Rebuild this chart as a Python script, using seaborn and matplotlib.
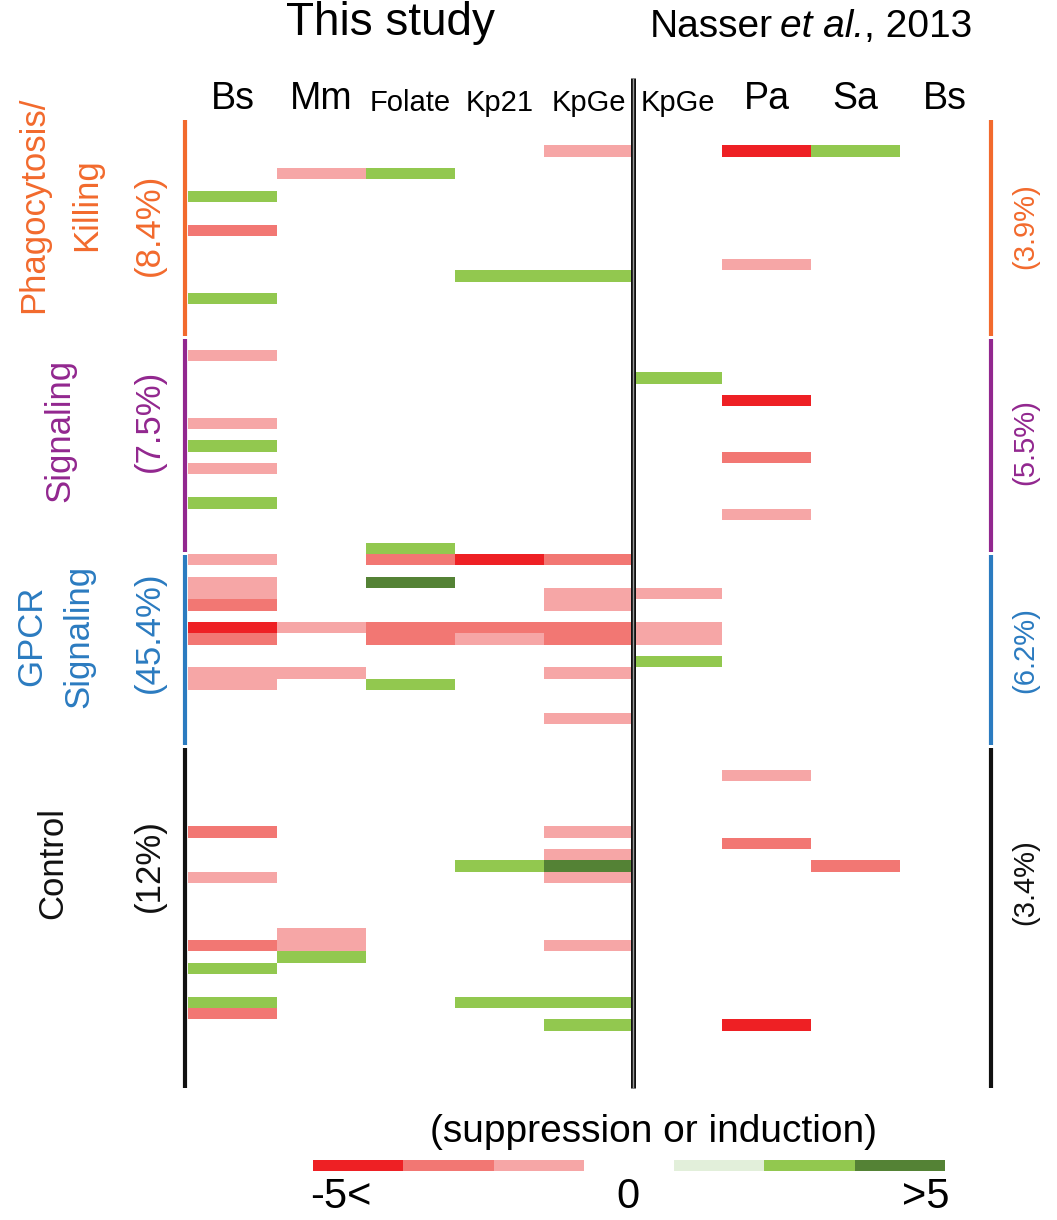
import numpy as np
import pandas as pd
import matplotlib
matplotlib.use("Agg")
import matplotlib.pyplot as plt
from matplotlib.colors import ListedColormap
from matplotlib import font_manager
import seaborn as sns

W, H = 1057, 1220

sns.set_style("white")
REG = "Liberation Sans"
_names = {f.name for f in font_manager.fontManager.ttflist}
NARROW = "Liberation Sans Narrow" if "Liberation Sans Narrow" in _names else REG
plt.rcParams["font.family"] = [REG, "DejaVu Sans"]
plt.rcParams["text.color"] = "black"
plt.rcParams["xtick.color"] = "black"

# column labels (5 from this study, 4 from Nasser et al., 2013)
columns = ["Bs", "Mm", "Folate", "Kp21", "KpGe", "KpGe", "Pa", "Sa", "Bs"]
n_rows = 85

# non-empty cells per column, {row: level}; -3..-1 suppression, 1..3 induction
bs_this = {6: 2, 9: -2, 15: 2, 20: -1, 26: -1, 28: 2, 30: -1, 33: 2, 38: -1,
           40: -1, 41: -1, 42: -2, 44: -3, 45: -2, 48: -1, 49: -1, 62: -2,
           66: -1, 72: -2, 74: 2, 77: 2, 78: -2}
mm_this = {4: -1, 44: -1, 48: -1, 71: -1, 72: -1, 73: 2}
folate_this = {4: 2, 37: 2, 38: -2, 40: 3, 44: -2, 45: -2, 49: 2}
kp21_this = {13: 2, 38: -3, 44: -2, 45: -1, 65: 2, 77: 2}
kpge_this = {2: -1, 13: 2, 38: -2, 41: -1, 42: -1, 44: -2, 45: -2, 48: -1,
             52: -1, 62: -1, 64: -1, 65: 3, 66: -1, 72: -1, 77: 2, 79: 2}
kpge_nasser = {22: 2, 41: -1, 44: -1, 45: -1, 47: 2}
pa_nasser = {2: -3, 12: -1, 24: -3, 29: -2, 34: -1, 57: -1, 63: -2, 79: -3}
sa_nasser = {2: 2, 65: -2}
bs_nasser = {}

# gene groups (rows top to bottom)
group_names = ["Phagocytosis/\nKilling", "Signaling", "GPCR\nSignaling", "Control"]
group_sizes = [19, 19, 17, 30]
pct_this = ["(8.4%)", "(7.5%)", "(45.4%)", "(12%)"]
pct_nasser = ["(3.9%)", "(5.5%)", "(6.2%)", "(3.4%)"]
group_colors = ["#F26A2D", "#92278F", "#2B7BC0", "#111111"]

legend_levels = [-3, -2, -1, 0, 1, 2, 3]
level_colors = ["#EE2024", "#F27773", "#F6A6A6", "#FFFFFF",
                "#E2EFDA", "#92C84F", "#548235"]

cols_data = [bs_this, mm_this, folate_this, kp21_this, kpge_this,
             kpge_nasser, pa_nasser, sa_nasser, bs_nasser]
mat = np.zeros((n_rows, len(columns)))
for j, d in enumerate(cols_data):
    for r, v in d.items():
        mat[r, j] = v
df = pd.DataFrame(mat)

cmap = ListedColormap(level_colors)

fig = plt.figure(figsize=(W / 100, H / 100), dpi=100)
top_px, bot_px = 122.6, 1087.4
ax = fig.add_axes([188 / W, 1 - bot_px / H, 801 / W, (bot_px - top_px) / H])
sns.heatmap(df, mask=(df == 0), cmap=cmap, vmin=-3.5, vmax=3.5, cbar=False,
            ax=ax, xticklabels=columns, yticklabels=False, linewidths=0)
ax.xaxis.tick_top()
ax.tick_params(axis="x", length=0, pad=4)
for lab, name in zip(ax.get_xticklabels(), columns):
    lab.set_rotation(0)
    lab.set_family(REG)
    lab.set_color("black")
    lab.set_fontsize(21 if name in ("Folate", "Kp21", "KpGe") else 27)

# group bars on both sides
bounds = np.cumsum([0] + group_sizes)
for i, c in enumerate(group_colors):
    y0 = bounds[i] + 0.1 if i else -0.2
    y1 = bounds[i + 1] - 0.2 if i < len(group_sizes) - 1 else n_rows + 0.05
    for x in (-0.036, len(columns) + 0.028):
        ax.plot([x, x], [y0, y1], color=c, lw=3, solid_capstyle="butt",
                clip_on=False)

# divider between the two studies
ax.plot([5, 5], [-3.9, n_rows + 0.05], color="#111111", lw=3.6,
        solid_capstyle="butt", clip_on=False)
ax.plot([5, 5], [-3.9, n_rows + 0.05], color="#9A9A9A", lw=1.0,
        solid_capstyle="butt", clip_on=False)

# colour key
leg = fig.add_axes([313 / W, 1 - 1171 / H, 632 / W, 11 / H])
sns.heatmap(pd.DataFrame([legend_levels]), cmap=cmap, vmin=-3.5, vmax=3.5,
            cbar=False, ax=leg, xticklabels=False, yticklabels=False)

# text overlay in pixel coordinates
ov = fig.add_axes([0, 0, 1, 1])
ov.set_xlim(0, W)
ov.set_ylim(H, 0)
ov.axis("off")

ov.text(390, 35, "This study", fontsize=33, ha="center", va="baseline")
n1 = ov.text(650, 37, "Nasser", fontsize=28, ha="left", va="baseline")
n2 = ov.annotate("et al.", xy=(1, 0), xycoords=n1, xytext=(5, 0),
                 textcoords="offset points", fontsize=28, style="italic",
                 ha="left", va="bottom")
ov.annotate(", 2013", xy=(1, 0), xycoords=n2, xytext=(0, 0),
            textcoords="offset points", fontsize=28, ha="left", va="bottom")

rot_size = 30 if NARROW != REG else 25
name_x = [60, 60, 55, 53]
name_y = [205, 430, 636, 863]
name_spacing = [1.75, 1.2, 1.55, 1.2]
for name, c, x, y, ls in zip(group_names, group_colors, name_x, name_y,
                             name_spacing):
    ov.text(x, y, name, color=c, rotation=90, ha="center", va="center",
            fontsize=rot_size, family=NARROW, linespacing=ls,
            multialignment="center")
for p, c, y in zip(pct_this, group_colors, [225, 421, 632, 866]):
    ov.text(149, y, p, color=c, rotation=90, ha="center", va="center",
            fontsize=rot_size, family=NARROW)
for p, c, y in zip(pct_nasser, group_colors, [226, 442, 650, 882]):
    ov.text(1025, y, p, color=c, rotation=90, ha="center", va="center",
            fontsize=rot_size - 4, family=NARROW)

ov.text(653, 1132, "(suppression or induction)",
        fontsize=33 if NARROW != REG else 28,
        family=NARROW, ha="center", va="center")
ov.text(310, 1208, "-5<", fontsize=30, ha="left", va="baseline")
ov.text(628, 1208, "0", fontsize=30, ha="center", va="baseline")
ov.text(949, 1208, ">5", fontsize=30, ha="right", va="baseline")

fig.savefig("out.png", dpi=100, facecolor="white")
